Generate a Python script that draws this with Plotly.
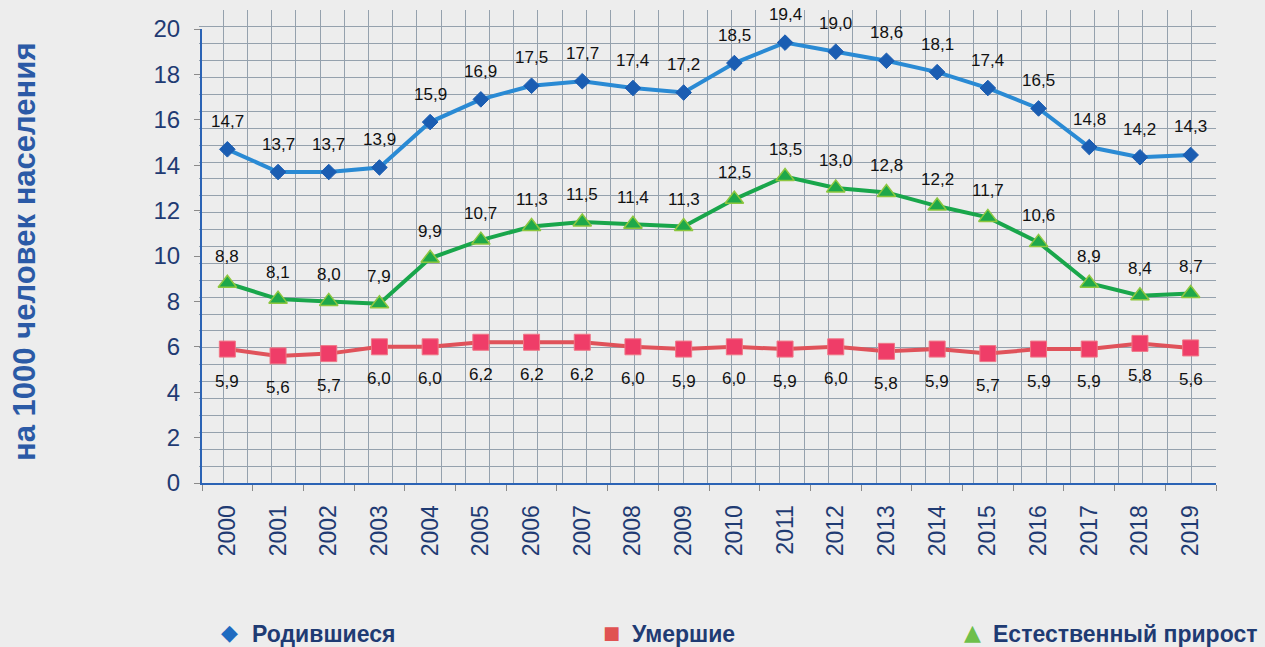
import plotly.graph_objects as go

years = [str(y) for y in range(2000, 2020)]

births = [14.7, 13.7, 13.7, 13.9, 15.9, 16.9, 17.5, 17.7, 17.4, 17.2,
          18.5, 19.4, 19.0, 18.6, 18.1, 17.4, 16.5, 14.8, 14.35, 14.45]
births_labels = ["14,7", "13,7", "13,7", "13,9", "15,9", "16,9", "17,5", "17,7", "17,4", "17,2",
                 "18,5", "19,4", "19,0", "18,6", "18,1", "17,4", "16,5", "14,8", "14,2", "14,3"]

deaths = [5.9, 5.6, 5.7, 6.0, 6.0, 6.2, 6.2, 6.2, 6.0, 5.9,
          6.0, 5.9, 6.0, 5.8, 5.9, 5.7, 5.9, 5.9, 6.15, 5.95]
deaths_labels = ["5,9", "5,6", "5,7", "6,0", "6,0", "6,2", "6,2", "6,2", "6,0", "5,9",
                 "6,0", "5,9", "6,0", "5,8", "5,9", "5,7", "5,9", "5,9", "5,8", "5,6"]

growth = [8.8, 8.1, 8.0, 7.9, 9.9, 10.7, 11.3, 11.5, 11.4, 11.3,
          12.5, 13.5, 13.0, 12.8, 12.2, 11.7, 10.6, 8.8, 8.25, 8.35]
growth_labels = ["8,8", "8,1", "8,0", "7,9", "9,9", "10,7", "11,3", "11,5", "11,4", "11,3",
                 "12,5", "13,5", "13,0", "12,8", "12,2", "11,7", "10,6", "8,9", "8,4", "8,7"]

series_names = ["Родившиеся", "Умершие", "Естественный прирост"]
legend_symbols = ["◆", "■", "▲"]
legend_colors = ["#1f6bc0", "#e05252", "#6dbf4b"]
y_title = "на 1000 человек населения"

W, H = 1265, 647
NAVY = "#1f3b73"
TICKFONT = "Liberation Sans Narrow, Liberation Sans, Arial, sans-serif"
SANS = "Liberation Sans, Arial, sans-serif"

def px_x(p):
    return p / W

def px_y(p):
    return (H - p) / H

fig = go.Figure()

# invisible trace that registers the background-grid subplot
fig.add_trace(go.Scatter(x=[None], y=[None], xaxis="x", yaxis="y", mode="markers",
                         showlegend=False, hoverinfo="skip"))

fig.add_trace(go.Scatter(
    x=years, y=births, xaxis="x2", yaxis="y2", mode="lines+markers", name=series_names[0],
    showlegend=False, line=dict(color="#2a8ad4", width=4),
    marker=dict(symbol="diamond", size=12, color="#1b5db2", line=dict(color="#1b5db2", width=1)),
    hoverinfo="skip"))
fig.add_trace(go.Scatter(
    x=years, y=deaths, xaxis="x2", yaxis="y2", mode="lines+markers", name=series_names[1],
    showlegend=False, line=dict(color="#e0525a", width=4),
    marker=dict(symbol="square", size=16, color="#ef3d68", line=dict(color="#f07585", width=1)),
    hoverinfo="skip"))
fig.add_trace(go.Scatter(
    x=years, y=growth, xaxis="x2", yaxis="y2", mode="lines+markers", name=series_names[2],
    showlegend=False, line=dict(color="#19a64b", width=4),
    marker=dict(symbol="triangle-up", size=16, color="#1ea84a", line=dict(color="#8dc63f", width=1.5)),
    hoverinfo="skip"))

annotations = []
for vals, labs, shift in [(births, births_labels, 28), (growth, growth_labels, 27), (deaths, deaths_labels, -32)]:
    for i, (v, t) in enumerate(zip(vals, labs)):
        annotations.append(dict(
            x=i, y=v, xref="x2", yref="y2", text=t, showarrow=False, yshift=shift,
            font=dict(family=SANS, size=17, color="#111111")))

annotations.append(dict(
    x=px_x(25), y=px_y(252), xref="paper", yref="paper", text=y_title, textangle=-90,
    showarrow=False, xanchor="center", yanchor="middle",
    font=dict(family=SANS, size=31, color="#2b5aa6", weight="bold")))

# legend row (symbol + label)
legend_sym_x = [229, 611, 972]
legend_txt_x = [250, 630, 991]
legend_sym_size = [22, 18, 22]
for name, sym, col, sx, tx, ss in zip(series_names, legend_symbols, legend_colors,
                                      legend_sym_x, legend_txt_x, legend_sym_size):
    annotations.append(dict(
        x=px_x(sx), y=px_y(632), xref="paper", yref="paper", text=sym, showarrow=False,
        xanchor="center", yanchor="middle",
        font=dict(family="DejaVu Sans, sans-serif", size=ss, color=col)))
    annotations.append(dict(
        x=px_x(tx), y=px_y(634), xref="paper", yref="paper", text=name, showarrow=False,
        xanchor="left", yanchor="middle",
        font=dict(family=SANS, size=23, color=NAVY, weight="bold")))

fig.update_layout(
    width=W, height=H, autosize=False,
    margin=dict(l=0, r=0, t=0, b=0, autoexpand=False),
    paper_bgcolor="#ededed", plot_bgcolor="rgba(0,0,0,0)",
    showlegend=False,
    # background grid
    xaxis=dict(domain=[px_x(199), px_x(1215.5)], range=[0, 42], dtick=1, showgrid=True,
               gridcolor="#95a1ad", gridwidth=1.2, showticklabels=False, ticks="",
               zeroline=False, showline=False, anchor="y", fixedrange=True),
    yaxis=dict(domain=[px_y(483), px_y(10)], range=[0, 28], dtick=1, showgrid=True,
               gridcolor="#95a1ad", gridwidth=1.2, showticklabels=False, ticks="",
               zeroline=False, showline=False, anchor="x", fixedrange=True),
    # data axes
    xaxis2=dict(domain=[px_x(202), px_x(1216)], type="category", range=[-0.5, 19.5],
                tickson="boundaries", ticks="outside", ticklen=6, tickcolor="#8a8a8a",
                showline=True, linecolor="#2b63b5", linewidth=2, showgrid=False, zeroline=False,
                tickangle=-90, tickfont=dict(family=TICKFONT, size=23, color=NAVY),
                ticklabelstandoff=11, anchor="y2", fixedrange=True),
    yaxis2=dict(domain=[px_y(483), px_y(29)], range=[0, 20], dtick=2, ticks="outside",
                ticklen=6, tickcolor="#8a8a8a", showline=True, linecolor="#2b63b5", linewidth=2,
                showgrid=False, zeroline=False, tickfont=dict(family=TICKFONT, size=24, color=NAVY),
                ticklabelstandoff=9, anchor="x2", fixedrange=True),
    annotations=annotations,
)

fig.write_html("out.html", config={"displayModeBar": False},
               post_script="document.body.style.margin='0px';")
